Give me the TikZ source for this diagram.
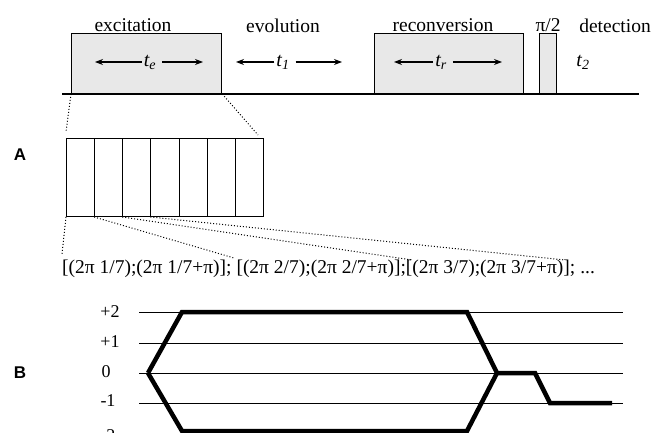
\documentclass[tikz,border=0pt]{standalone}
\usepackage{fontspec}
\setmainfont{Liberation Serif}
\setsansfont{Liberation Sans}
\usetikzlibrary{arrows.meta}
\begin{document}
\begin{tikzpicture}[x=1pt,y=-1pt,
  pulse/.style={draw, line width=1.3pt, fill=black!9, minimum width=#1, minimum height=60pt, anchor=south west, inner sep=0pt},
  lab/.style={font=\fontsize{19.5}{19.5}\selectfont, inner sep=0pt},
  tlab/.style={font=\fontsize{20}{20}\selectfont\itshape, inner sep=0pt},
  arr/.style={-{Stealth[length=8pt,width=6pt]}, line width=1.2pt},
  dots/.style={dotted, line width=1pt},
  cell/.style={draw, line width=1pt, minimum width=28.14pt, minimum height=78pt, inner sep=0pt, anchor=north west},
  lvl/.style={line width=0.9pt},
  num/.style={font=\fontsize{18}{18}\selectfont, inner sep=0pt},
  seqtext/.style={font=\fontsize{19.5}{19.5}\selectfont, inner sep=0pt, anchor=base west},
  big/.style={font=\sffamily\bfseries\fontsize{17}{17}\selectfont, inner sep=0pt},
  cpath/.style={line width=4.5pt, line join=miter}
]
\useasboundingbox (0,0) rectangle (653,433);
\clip (0,0) rectangle (653,433);

% baseline and pulses
\coordinate (b0) at (62,94);
\coordinate (b1) at (639,94);
\node[pulse=150pt] (exc) at (71,94) {};
\node[pulse=149pt] (rec) at (374,94) {};
\node[pulse=17pt] (pi2) at (539,94) {};
\draw[line width=1.3pt] (b0) -- (b1);

% labels
\node[lab] (lexc) at (133,25.5) {excitation};
\node[lab] (levo) at (283,25.5) {evolution};
\node[lab] (lrec) at (443,25.5) {reconversion};
\node[lab] (lpi) at (548,25.5) {π/2};
\node[lab] (ldet) at (615,25.5) {detection};

% time labels and arrows
\node[tlab] (te) at (150,62) {t\textsubscript{e}};
\node[tlab] (t1) at (283,62) {t\textsubscript{1}};
\node[tlab] (tr) at (441,62) {t\textsubscript{r}};
\node[tlab] (t2) at (583,62) {t\textsubscript{2}};
\coordinate (tel) at (95,62);
\coordinate (ter) at (203,62);
\coordinate (t1l) at (236,62);
\coordinate (t1r) at (342,62);
\coordinate (trl) at (394,62);
\coordinate (trr) at (502,62);
\draw[arr] (te.west) ++(-2,0) -- (tel);
\draw[arr] (te.east) ++(6,0) -- (ter);
\draw[arr] (t1.west) ++(-2,0) -- (t1l);
\draw[arr] (t1.east) ++(6,0) -- (t1r);
\draw[arr] (tr.west) ++(-2,0) -- (trl);
\draw[arr] (tr.east) ++(6,0) -- (trr);

% block A
\node[big] (A) at (20,155) {A};
\foreach \i in {0,...,6} {
  \node[cell] (c\i) at (66+28.14*\i,138) {};
}
\coordinate (d1) at (66,132);
\coordinate (d2) at (258,135);
\draw[dots] (exc.south west) -- (d1);
\draw[dots] (exc.south east) -- (d2);

\node[seqtext] (seq) at (62,273) {[(2π 1/7);(2π 1/7+π)]; [(2π 2/7);(2π 2/7+π)];[(2π 3/7);(2π 3/7+π)]; ...};
\coordinate (e0) at (62,254);
\coordinate (e1) at (234,258);
\coordinate (e2) at (412,260);
\coordinate (e3) at (565,260);
\draw[dots] (c0.south west) -- (e0);
\draw[dots] (c1.south west) -- (e1);
\draw[dots] (c2.south west) -- (e2);
\draw[dots] (c3.south west) -- (e3);

% block B
\node[big] (B) at (20,373) {B};
\foreach \y/\n in {312/p2, 343/p1, 373/z, 403/m1, 433/m2} {
  \coordinate (\n a) at (139,\y);
  \coordinate (\n b) at (623,\y);
  \draw[lvl] (\n a) -- (\n b);
}
\node[num] (lp2) at (110,312) {+2};
\node[num] (lp1) at (110,342) {+1};
\node[num] (lz) at (106,372) {0};
\node[num] (lm1) at (108,401) {-1};
\node[num] (lm2) at (108,436) {-2};

\coordinate (q0) at (148,373);
\coordinate (q1) at (182,312);
\coordinate (q2) at (467,312);
\coordinate (q3) at (497,373);
\coordinate (q4) at (535,373);
\coordinate (q5) at (550,403);
\coordinate (q6) at (612,403);
\coordinate (r1) at (182,431);
\coordinate (r2) at (467,431);
\draw[cpath] (q0) -- (q1) -- (q2) -- (q3) -- (q4) -- (q5) -- (q6);
\draw[cpath] (q0) -- (r1) -- (r2) -- (q3);
\end{tikzpicture}
\end{document}
